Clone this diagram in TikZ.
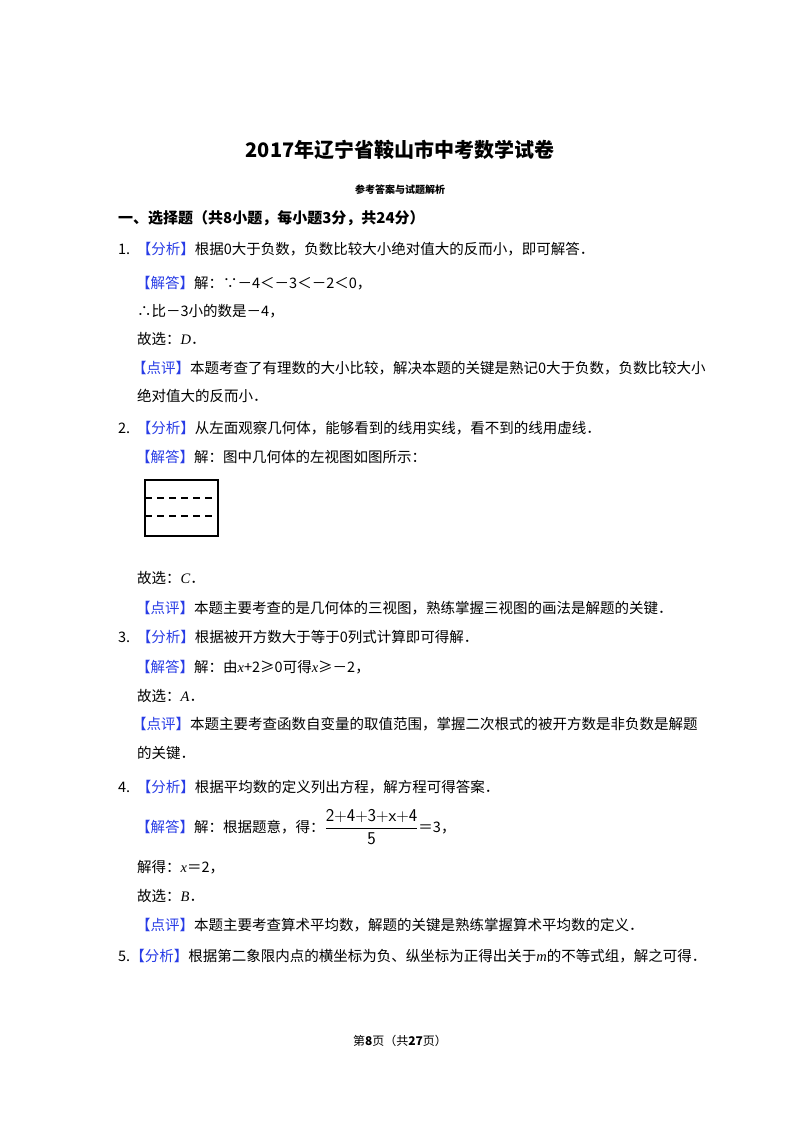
\documentclass[tikz,border=0pt]{standalone}
\usepackage{fontspec}
\setmainfont{Noto Sans CJK SC}
\newfontfamily\lat{Liberation Serif}
\definecolor{bluec}{RGB}{40,60,230}
\newcommand{\tg}[1]{\textcolor{bluec}{【#1】}}
\newcommand{\iv}[1]{{\lat\itshape #1}}
\begin{document}
\begin{tikzpicture}[x=1pt,y=-1pt,
  ln/.style={anchor=west,inner sep=0pt,font=\fontsize{14.5}{16}\selectfont}]
\useasboundingbox[fill=white] (0,0) rectangle (800,1132);
\node[font=\fontsize{20}{22}\selectfont\bfseries] (title) at (400,150) {2017年辽宁省鞍山市中考数学试卷};
\node[font=\fontsize{10}{11}\selectfont\bfseries] (sub) at (400,190) {参考答案与试题解析};
\node[ln,font=\fontsize{15}{16}\selectfont\bfseries] (sec) at (118,218) {一、选择题（共8小题，每小题3分，共24分）};
\node[ln] (a1) at (118,249) {1.\ \ \tg{分析}根据0大于负数，负数比较大小绝对值大的反而小，即可解答．};
\node[ln] (a2) at (136,283) {\tg{解答}解：∵－4＜－3＜－2＜0，};
\node[ln] (a3) at (137,311) {∴比－3小的数是－4，};
\node[ln] (a4) at (137,339) {故选：\iv{D}．};
\node[ln] (a5) at (132,368) {\tg{点评}本题考查了有理数的大小比较，解决本题的关键是熟记0大于负数，负数比较大小};
\node[ln] (a6) at (137,396) {绝对值大的反而小．};
\node[ln] (b1) at (118,428) {2.\ \ \tg{分析}从左面观察几何体，能够看到的线用实线，看不到的线用虚线．};
\node[ln] (b2) at (136,457) {\tg{解答}解：图中几何体的左视图如图所示：};
\coordinate (r1) at (145,480); \coordinate (r2) at (218,536);
\draw[line width=1.8pt] (r1) rectangle (r2);
\draw[line width=1.5pt,dash pattern=on 7pt off 5pt] (145,498) -- (218,498);
\draw[line width=1.5pt,dash pattern=on 7pt off 5pt] (145,516) -- (218,516);
\node[ln] (b3) at (137,578) {故选：\iv{C}．};
\node[ln] (b4) at (136,608) {\tg{点评}本题主要考查的是几何体的三视图，熟练掌握三视图的画法是解题的关键．};
\node[ln] (c1) at (118,637) {3.\ \ \tg{分析}根据被开方数大于等于0列式计算即可得解．};
\node[ln] (c2) at (136,667) {\tg{解答}解：由\iv{x}+2≥0可得\iv{x}≥－2，};
\node[ln] (c3) at (137,696) {故选：\iv{A}．};
\node[ln] (c4) at (132,724) {\tg{点评}本题主要考查函数自变量的取值范围，掌握二次根式的被开方数是非负数是解题};
\node[ln] (c5) at (137,753) {的关键．};
\node[ln] (d1) at (118,787) {4.\ \ \tg{分析}根据平均数的定义列出方程，解方程可得答案．};
\node[ln] (d2) at (136,827) {\tg{解答}解：根据题意，得：{\fontsize{18}{20}\selectfont$\displaystyle\frac{\mathsf{2{+}4{+}3{+}x{+}4}}{\mathsf{5}}$}＝3，};
\node[ln] (d3) at (137,867) {解得：\iv{x}＝2，};
\node[ln] (d4) at (137,896) {故选：\iv{B}．};
\node[ln] (d5) at (136,925) {\tg{点评}本题主要考查算术平均数，解题的关键是熟练掌握算术平均数的定义．};
\node[ln] (e1) at (118,956) {5.\tg{分析}根据第二象限内点的横坐标为负、纵坐标为正得出关于\iv{m}的不等式组，解之可得．};
\node[font=\fontsize{12}{13}\selectfont] (foot) at (400,1041) {第\textbf{8}页（共\textbf{27}页）};
\end{tikzpicture}
\end{document}
